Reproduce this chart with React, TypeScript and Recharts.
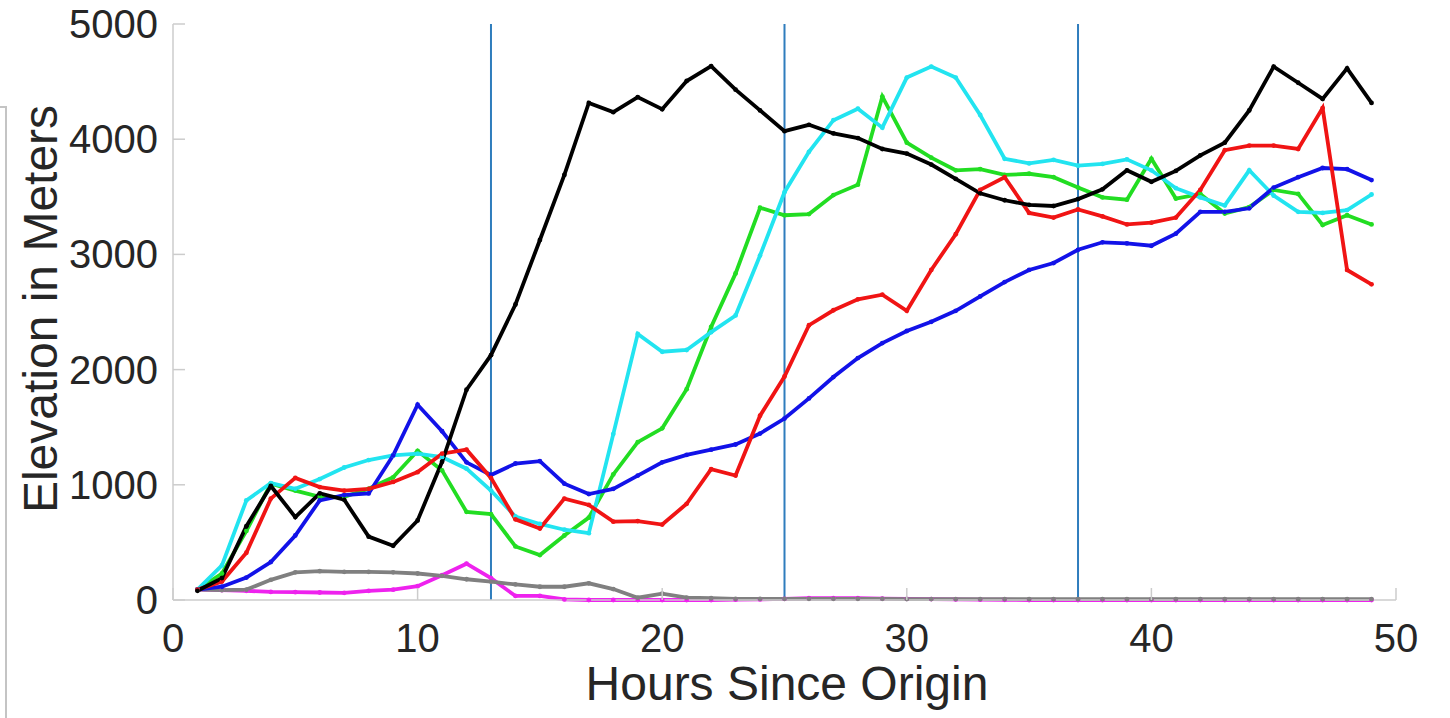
import React from "react";
import { LineChart, Line, XAxis, YAxis, ReferenceLine } from "recharts";

// ---- data (hours 1..49) ----
const hours = [
  1, 2, 3, 4, 5, 6, 7, 8, 9, 10, 11, 12, 13, 14, 15, 16, 17, 18, 19, 20, 21, 22, 23, 24, 25,
  26, 27, 28, 29, 30, 31, 32, 33, 34, 35, 36, 37, 38, 39, 40, 41, 42, 43, 44, 45, 46, 47, 48, 49,
];
const blackSeries = [
  80, 190, 640, 990, 720, 925, 870, 550, 470, 690, 1200, 1825, 2125, 2565, 3125, 3690, 4315, 4235,
  4365, 4260, 4505, 4635, 4430, 4250, 4070, 4125, 4050, 4010, 3915, 3875, 3780, 3655, 3530, 3470,
  3430, 3420, 3480, 3565, 3730, 3630, 3725, 3860, 3970, 4250, 4630, 4490, 4350, 4615, 4315,
];
const redSeries = [
  90, 160, 410, 880, 1060, 980, 950, 965, 1025, 1110, 1270, 1305, 1060, 700, 620, 880, 825, 680,
  685, 655, 835, 1135, 1080, 1600, 1940, 2385, 2515, 2610, 2650, 2510, 2865, 3175, 3560, 3670,
  3360, 3320, 3390, 3330, 3260, 3275, 3320, 3560, 3905, 3945, 3945, 3915, 4270, 2865, 2740,
];
const blueSeries = [
  90, 115, 195, 330, 560, 865, 910, 925, 1255, 1695, 1465, 1195, 1085, 1185, 1205, 1010, 920, 965,
  1080, 1195, 1260, 1305, 1350, 1445, 1575, 1750, 1935, 2100, 2230, 2335, 2415, 2510, 2635, 2760,
  2865, 2925, 3040, 3105, 3095, 3075, 3180, 3370, 3370, 3400, 3580, 3670, 3750, 3740, 3645,
];
const greenSeries = [
  90, 230, 600, 1010, 950, 895, 895, 965, 1065, 1295, 1125, 765, 745, 465, 390, 560, 715, 1090,
  1370, 1490, 1830, 2370, 2835, 3405, 3340, 3350, 3515, 3605, 4370, 3970, 3840, 3730, 3740, 3690,
  3700, 3670, 3580, 3495, 3475, 3830, 3485, 3525, 3355, 3410, 3560, 3525, 3255, 3340, 3260,
];
const cyanSeries = [
  90, 300, 865, 1015, 965, 1050, 1150, 1215, 1255, 1270, 1240, 1140, 950, 725, 660, 610, 580, 1440,
  2310, 2155, 2170, 2325, 2470, 2990, 3540, 3890, 4165, 4265, 4100, 4535, 4630, 4535, 4210, 3830,
  3790, 3820, 3770, 3785, 3825, 3730, 3575, 3495, 3425, 3730, 3510, 3370, 3360, 3385, 3520,
];
const graySeries = [
  90, 85, 90, 175, 240, 250, 245, 245, 240, 230, 210, 180, 160, 135, 115, 115, 145, 95, 20, 55, 20,
  15, 10, 10, 10, 10, 10, 10, 10, 8, 8, 8, 8, 8, 8, 8, 8, 8, 8, 8, 8, 8, 8, 8, 8, 8, 8, 8, 8,
];
const magentaSeries = [
  90, 85, 80, 70, 68, 65, 62, 80, 90, 120, 215, 315, 190, 35, 35, 5, 0, 0, 0, 0, 0, 0, 3, 5, 10, 15,
  15, 15, 12, 10, 8, 5, 3, 2, 0, 0, 0, 0, 0, 0, 0, 0, 0, 0, 0, 0, 0, 0, 0,
];
const markerHours = [13, 25, 37];
const xTicks = [0, 10, 20, 30, 40, 50];
const yTicks = [0, 1000, 2000, 3000, 4000, 5000];

const data = hours.map((h, i) => ({
  h,
  black: blackSeries[i],
  red: redSeries[i],
  blue: blueSeries[i],
  green: greenSeries[i],
  cyan: cyanSeries[i],
  gray: graySeries[i],
  magenta: magentaSeries[i],
}));

const series = [
  { key: "magenta", color: "#ee22ee" },
  { key: "gray", color: "#808080" },
  { key: "green", color: "#22dd22" },
  { key: "cyan", color: "#22e4f0" },
  { key: "blue", color: "#1212e8" },
  { key: "red", color: "#f01414" },
  { key: "black", color: "#000000" },
];

// ---- layout ----
const W = 1450;
const H = 718;
const AXIS = "#cccccc";
const TEXT = "#262626";
const FONT = "'Liberation Sans', Arial, Helvetica, sans-serif";
const TL = 12;

const BottomTick = (p: any) => (
  <g>
    <line x1={p.x} y1={p.y} x2={p.x} y2={p.y - TL} stroke={AXIS} strokeWidth={1.5} />
    <text x={p.x} y={p.y + 52} textAnchor="middle" fontSize={40} fill={TEXT} fontFamily={FONT}>
      {p.payload.value}
    </text>
  </g>
);
const LeftTick = (p: any) => (
  <g>
    <line x1={p.x} y1={p.y} x2={p.x + TL} y2={p.y} stroke={AXIS} strokeWidth={1.5} />
    <text x={p.x - 15} y={p.y + 14} textAnchor="end" fontSize={40} fill={TEXT} fontFamily={FONT}>
      {p.payload.value}
    </text>
  </g>
);
const TopTick = (p: any) => (
  <line x1={p.x} y1={p.y} x2={p.x} y2={p.y + TL} stroke={AXIS} strokeWidth={1.5} />
);
const RightTick = (p: any) => (
  <line x1={p.x} y1={p.y} x2={p.x - TL} y2={p.y} stroke={AXIS} strokeWidth={1.5} />
);

export default function App() {
  return (
    <div style={{ position: "absolute", left: 0, top: 0, width: W, height: H, background: "#fff" }}>
      <div
        style={{
          position: "absolute",
          left: 0,
          top: 106,
          width: 5,
          height: H - 106,
          borderTop: "2px solid #c4c4c4",
          borderRight: "2px solid #c4c4c4",
        }}
      />
      <LineChart
        width={W}
        height={H}
        data={data}
        margin={{ top: 24, right: 54, bottom: 0, left: 0 }}
        style={{ position: "absolute", left: 0, top: 0 }}
      >
        <XAxis
          dataKey="h"
          type="number"
          domain={[0, 50]}
          ticks={xTicks}
          height={118}
          tickSize={0}
          tickMargin={0}
          tickLine={false}
          axisLine={{ stroke: AXIS, strokeWidth: 1.5 }}
          tick={BottomTick}
          interval={0}
        />
        <XAxis
          xAxisId="top"
          orientation="top"
          type="number"
          domain={[0, 50]}
          allowDataOverflow
          ticks={xTicks}
          height={0}
          tickSize={0}
          tickMargin={0}
          tickLine={false}
          axisLine={{ stroke: AXIS, strokeWidth: 1.5 }}
          tick={TopTick}
          interval={0}
        />
        <YAxis
          type="number"
          domain={[0, 5000]}
          ticks={yTicks}
          width={173}
          tickSize={0}
          tickMargin={0}
          tickLine={false}
          axisLine={{ stroke: AXIS, strokeWidth: 1.5 }}
          tick={LeftTick}
          interval={0}
          label={{
            content: () => (
              <text
                x={57}
                y={309}
                transform="rotate(-90 57 309)"
                textAnchor="middle"
                fontSize={48}
                fill={TEXT}
                fontFamily={FONT}
              >
                Elevation in Meters
              </text>
            ),
          }}
        />
        <YAxis
          yAxisId="right"
          orientation="right"
          type="number"
          domain={[0, 5000]}
          allowDataOverflow
          ticks={yTicks}
          width={0}
          tickSize={0}
          tickMargin={0}
          tickLine={false}
          axisLine={{ stroke: AXIS, strokeWidth: 1.5 }}
          tick={RightTick}
          interval={0}
        />
        {markerHours.map((m) => (
          <ReferenceLine key={m} x={m} stroke="#2f7dbd" strokeWidth={2} />
        ))}
        {series.map((s) => (
          <Line
            key={s.key}
            dataKey={s.key}
            type="linear"
            stroke={s.color}
            strokeWidth={3.8}
            dot={{ r: 2.4, fill: s.color, stroke: s.color, strokeWidth: 0 }}
            activeDot={false}
            isAnimationActive={false}
          />
        ))}
        <text
          x={787}
          y={700}
          textAnchor="middle"
          fontSize={48}
          fill={TEXT}
          fontFamily={FONT}
        >
          Hours Since Origin
        </text>
      </LineChart>
    </div>
  );
}
